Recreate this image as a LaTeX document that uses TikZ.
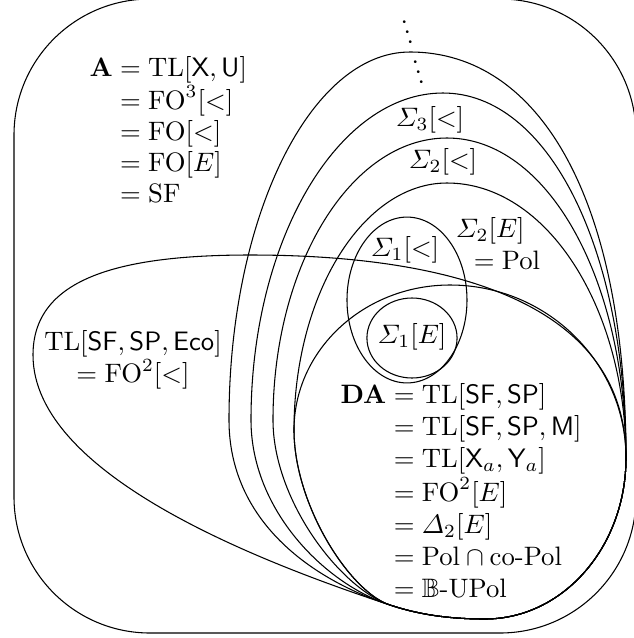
\documentclass[tikz,border=0pt]{standalone}
\usepackage{amsmath,amssymb}
\newcommand{\mydotcol}{\vbox{\baselineskip4pt\lineskiplimit0pt\hbox{.}\hbox{.}\hbox{.}}}
\begin{document}
\begin{tikzpicture}[x=0.375pt,y=-0.375pt,
  curve/.style={line width=0.4pt},
  lbl/.style={inner sep=0pt}]
\useasboundingbox (0,0) rectangle (634,638);
\clip (0,0) rectangle (634,638);
% common points
\coordinate (Q) at (390,605);
\coordinate (S) at (626,458);
\coordinate (Bot) at (485,619);
% outer frame
\draw[curve,rounded corners=51pt] (14,-1) rectangle (636,633);
% TL[SF,SP,Eco] = FO^2[<]
\draw[curve] (Q) .. controls (260,562) and (33,475) .. (33,355)
  .. controls (33,280) and (115,255) .. (250,255)
  .. controls (460,255) and (626,307) .. (S)
  .. controls (626,547) and (563,619) .. (Bot)
  .. controls (455,619) and (423,616) .. cycle;
% T1 (outermost)
\draw[curve] (Q) .. controls (310,579) and (229,520) .. (229,420)
  .. controls (229,218) and (310,52) .. (410,52)
  .. controls (540,52) and (626,200) .. (S)
  .. controls (626,547) and (563,619) .. (Bot)
  .. controls (455,619) and (423,616) .. cycle;
% T2 : Sigma_3[<]
\draw[curve] (Q) .. controls (325,584) and (251,510) .. (251,420)
  .. controls (251,240) and (338,93) .. (443,93)
  .. controls (548,93) and (626,248) .. (S)
  .. controls (626,547) and (563,619) .. (Bot)
  .. controls (455,619) and (423,616) .. cycle;
% T3 : Sigma_2[<]
\draw[curve] (Q) .. controls (340,588) and (273,500) .. (273,420)
  .. controls (273,265) and (351,138) .. (447,138)
  .. controls (547,138) and (626,278) .. (S)
  .. controls (626,547) and (563,619) .. (Bot)
  .. controls (455,619) and (423,616) .. cycle;
% T4 : Sigma_2[E]
\draw[curve] (Q) .. controls (350,592) and (294,505) .. (294,430)
  .. controls (294,294) and (363,183) .. (447,183)
  .. controls (547,183) and (626,308) .. (S)
  .. controls (626,547) and (563,619) .. (Bot)
  .. controls (455,619) and (423,616) .. cycle;
% DA
\draw[curve] (Q) .. controls (350,592) and (294,505) .. (294,430)
  .. controls (294,350) and (364,285) .. (450,285)
  .. controls (547,285) and (626,363) .. (S)
  .. controls (626,547) and (563,619) .. (Bot)
  .. controls (455,619) and (423,616) .. cycle;
% Sigma_1 ellipses
\draw[curve] (407,300) ellipse [x radius=22.5pt, y radius=31.1pt];
\draw[curve] (412,338) ellipse [x radius=16.9pt, y radius=15pt];
% labels
\node[lbl,anchor=north west] (Ablk) at (89,54) {\renewcommand{\arraystretch}{0.97}$\begin{array}{@{}r@{}l@{}}
 \mathbf{A} & {}= \mathrm{TL}[\mathsf{X},\mathsf{U}]\\
 & {}= \mathrm{FO}^3[<]\\
 & {}= \mathrm{FO}[<]\\
 & {}= \mathrm{FO}[E]\\
 & {}= \mathrm{SF}
\end{array}$};
\node[lbl,anchor=north west] (DAblk) at (340,381) {$\begin{array}{@{}r@{}l@{}}
 \mathbf{DA} & {}= \mathrm{TL}[\mathsf{SF},\mathsf{SP}]\\
 & {}= \mathrm{TL}[\mathsf{SF},\mathsf{SP},\mathsf{M}]\\
 & {}= \mathrm{TL}[\mathsf{X}_a,\mathsf{Y}_a]\\
 & {}= \mathrm{FO}^2[E]\\
 & {}= \varDelta_2[E]\\
 & {}= \mathrm{Pol}\cap\text{co-Pol}\\
 & {}= \mathbb{B}\text{-UPol}
\end{array}$};
\node[lbl,align=center] (Eco) at (133,360) {$\mathrm{TL}[\mathsf{SF},\mathsf{SP},\mathsf{Eco}]$\\$=\mathrm{FO}^2[<]$};
\node[lbl] (s3) at (430,120) {$\varSigma_3[<]$};
\node[lbl] (s2) at (443,162) {$\varSigma_2[<]$};
\node[lbl,align=left] (s2e) at (498,243) {$\varSigma_2[E]$\\\hspace*{6.75pt}$=\mathrm{Pol}$};
\node[lbl] (s1) at (405,250) {$\varSigma_1[<]$};
\node[lbl] (s1e) at (412,337) {$\varSigma_1[E]$};
\node[lbl,anchor=base,rotate=15] (dotsA) at (411,44) {\mydotcol};
\node[lbl,anchor=base,rotate=15] (dotsB) at (422,84) {\mydotcol};
\end{tikzpicture}
\end{document}
